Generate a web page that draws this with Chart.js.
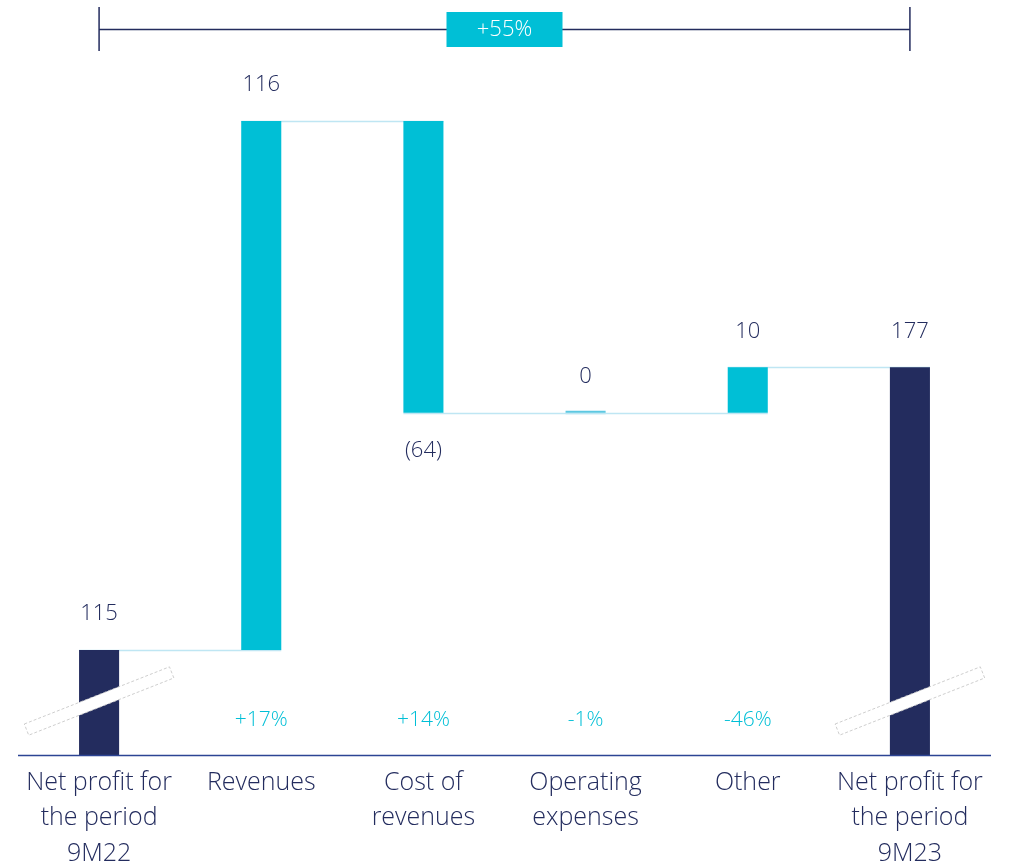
<!DOCTYPE html>
<html>
<head>
<meta charset="utf-8">
<script src="https://cdn.jsdelivr.net/npm/chart.js@4/dist/chart.umd.min.js"></script>
<style>
  html, body { margin: 0; padding: 0; background: #fff; }
  #wrap { width: 1015px; height: 866px; }
</style>
</head>
<body>
<div id="wrap"><canvas id="chart" width="1015" height="866"></canvas></div>
<script>
const categories = [
  ['Net profit for', 'the period', '9M22'],
  ['Revenues'],
  ['Cost of', 'revenues'],
  ['Operating', 'expenses'],
  ['Other'],
  ['Net profit for', 'the period', '9M23']
];
const values = [115, 116, -64, 0, 10, 177];
const isTotal = [true, false, false, false, false, true];
const valueLabels = ['115', '116', '(64)', '0', '10', '177'];
const changeLabels = ['', '+17%', '+14%', '-1%', '-46%', ''];
const totalChange = '+55%';

const NAVY = '#232c5e';
const CYAN = '#00bfd6';
const FONT = '"Open Sans", "Noto Sans", sans-serif';

// floating ranges for the waterfall
let running = 0;
const ranges = values.map((v, i) => {
  if (isTotal[i]) { running = v; return [0, v]; }
  const start = running;
  running += v;
  return [start, running];
});
const levels = ranges.map(r => r[1]);

const waterfallPlugin = {
  id: 'waterfall',
  beforeDatasetsDraw(chart) {
    const ctx = chart.ctx;
    const meta = chart.getDatasetMeta(0);
    const y = chart.scales.y;
    ctx.save();
    ctx.strokeStyle = '#bfe6f3';
    ctx.lineWidth = 1.5;
    for (let i = 0; i < meta.data.length - 1; i++) {
      const a = meta.data[i], b = meta.data[i + 1];
      const py = Math.round(y.getPixelForValue(levels[i])) + 0.5;
      ctx.beginPath();
      ctx.moveTo(a.x - a.width / 2, py);
      ctx.lineTo(b.x + b.width / 2, py);
      ctx.stroke();
    }
    ctx.restore();
  },
  afterDatasetsDraw(chart) {
    const ctx = chart.ctx;
    const meta = chart.getDatasetMeta(0);
    const y = chart.scales.y;
    const area = chart.chartArea;
    ctx.save();
    ctx.textAlign = 'center';
    ctx.textBaseline = 'middle';
    meta.data.forEach((bar, i) => {
      const top = y.getPixelForValue(Math.max(ranges[i][0], ranges[i][1]));
      const bottom = y.getPixelForValue(Math.min(ranges[i][0], ranges[i][1]));
      ctx.font = '300 22px ' + FONT;
      ctx.fillStyle = NAVY;
      if (values[i] < 0) ctx.fillText(valueLabels[i], bar.x, bottom + 38);
      else ctx.fillText(valueLabels[i], bar.x, top - 36);
      if (changeLabels[i]) {
        ctx.font = '300 21px ' + FONT;
        ctx.fillStyle = CYAN;
        ctx.fillText(changeLabels[i], bar.x, 720);
      }
      // axis break marks on the totals
      if (isTotal[i]) {
        ctx.save();
        ctx.translate(bar.x, 701);
        ctx.rotate(-21.5 * Math.PI / 180);
        ctx.fillStyle = '#ffffff';
        ctx.fillRect(-78, -6, 156, 12);
        ctx.setLineDash([3, 2]);
        ctx.strokeStyle = '#c8c8c8';
        ctx.lineWidth = 0.8;
        ctx.strokeRect(-78, -6, 156, 12);
        ctx.restore();
      }
    });
    // bottom axis line
    ctx.strokeStyle = '#2c4494';
    ctx.lineWidth = 1.5;
    ctx.beginPath();
    ctx.moveTo(area.left, area.bottom + 0.5);
    ctx.lineTo(area.right, area.bottom + 0.5);
    ctx.stroke();
    // overall change bracket
    const x0 = meta.data[0].x, x1 = meta.data[meta.data.length - 1].x;
    ctx.strokeStyle = NAVY;
    ctx.lineWidth = 1.5;
    ctx.beginPath();
    ctx.moveTo(x0, 7); ctx.lineTo(x0, 51);
    ctx.moveTo(x1, 7); ctx.lineTo(x1, 51);
    ctx.moveTo(x0, 29.5); ctx.lineTo(x1, 29.5);
    ctx.stroke();
    const cx = (x0 + x1) / 2;
    ctx.fillStyle = CYAN;
    ctx.fillRect(cx - 58, 12, 116, 35);
    ctx.fillStyle = '#ffffff';
    ctx.font = '300 22px ' + FONT;
    ctx.fillText(totalChange, cx, 30);
    ctx.restore();
  }
};

new Chart(document.getElementById('chart'), {
  type: 'bar',
  data: {
    labels: categories,
    datasets: [{
      data: ranges,
      backgroundColor: values.map((v, i) => isTotal[i] ? NAVY : (v === 0 ? '#5cc8e2' : CYAN)),
      borderSkipped: false,
      minBarLength: 2,
      barPercentage: 0.5,
      categoryPercentage: 0.494
    }]
  },
  options: {
    responsive: false,
    animation: false,
    layout: { padding: { left: 18, right: 24, top: 0, bottom: 0 } },
    plugins: { legend: { display: false }, tooltip: { enabled: false } },
    scales: {
      x: {
        grid: { display: false },
        border: { display: false },
        ticks: {
          color: NAVY,
          font: { family: FONT, size: 25, weight: 300, lineHeight: 1.42 },
          padding: 2,
          maxRotation: 0,
          autoSkip: false
        },
        afterFit(scale) { scale.height = 111; }
      },
      y: {
        display: false,
        min: 92,
        max: 257.5
      }
    }
  },
  plugins: [waterfallPlugin]
});
</script>
</body>
</html>
